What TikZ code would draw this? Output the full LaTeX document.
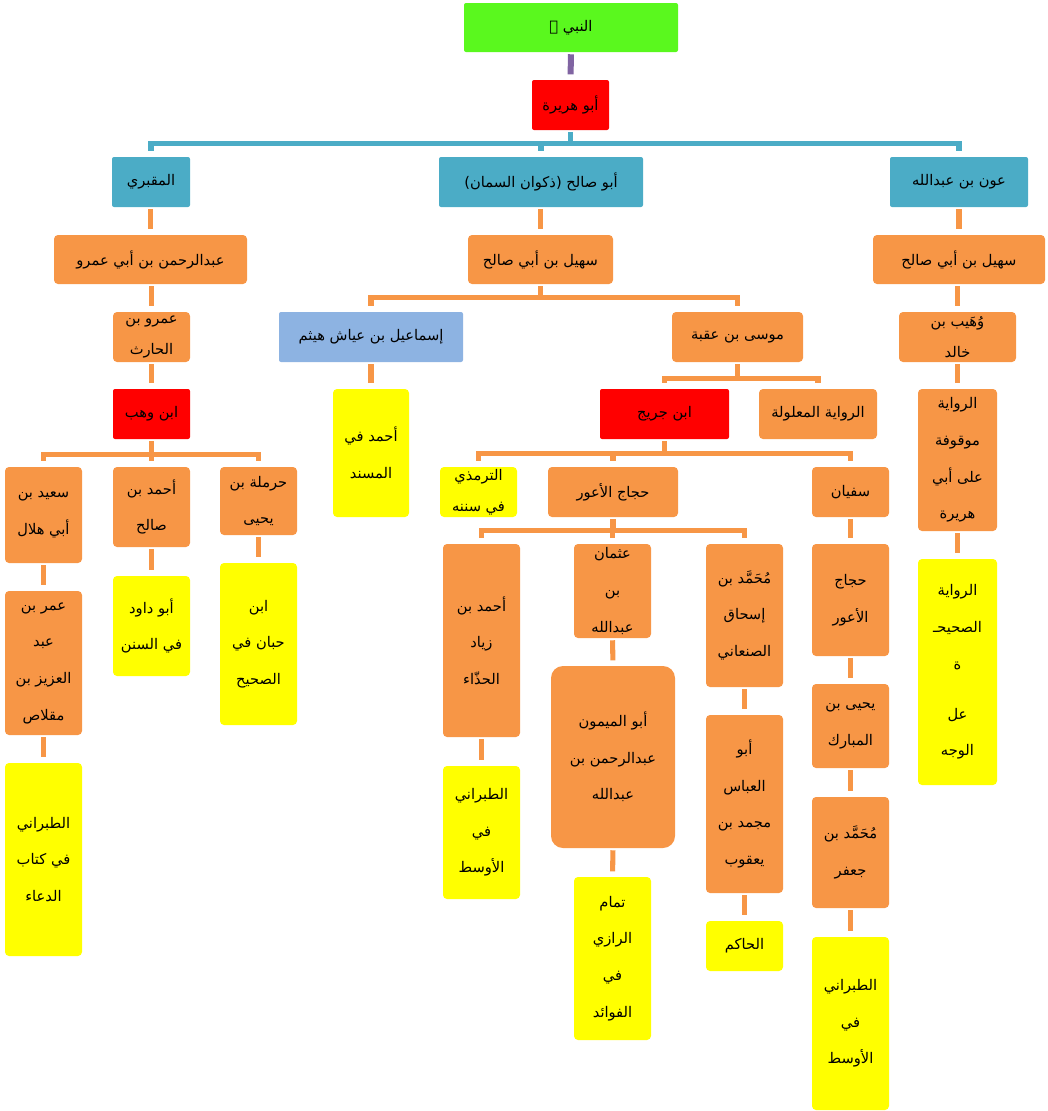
\documentclass[tikz,border=0pt]{standalone}
\usepackage{fontspec}
\usepackage{tikz}
\usetikzlibrary{calc}
\TeXXeTstate=1
\newfontfamily\arabicfont[Script=Arabic]{DejaVu Sans}
\definecolor{isnadgreen}{HTML}{5AF81E}
\definecolor{isnadred}{HTML}{FF0000}
\definecolor{isnadblue}{HTML}{4BACC6}
\definecolor{isnadsky}{HTML}{8DB3E2}
\definecolor{isnadorange}{HTML}{F79646}
\definecolor{isnadyellow}{HTML}{FFFF00}
\definecolor{isnadpurple}{HTML}{8064A2}
\newcommand\ar[1]{\beginR#1\endR}
\tikzset{
  % every box of the chain, sized in screen pixels
  isnad box/.style={
    rectangle, rounded corners=3pt, draw=none, inner sep=0pt,
    align=center, text=black,
    font=\arabicfont\fontsize{11}{27.5}\selectfont,
  },
  isnad size/.style 2 args={minimum width=#1*0.75pt, minimum height=#2*0.75pt},
  % the kinds of box
  prophet/.style={isnad box, fill=isnadgreen, rounded corners=1.5pt},
  pivot/.style={isnad box, fill=isnadred, rounded corners=1.5pt},
  tabii/.style={isnad box, fill=isnadblue, rounded corners=1.5pt},
  narrator/.style={isnad box, fill=isnadorange},
  ismailbox/.style={isnad box, fill=isnadsky, rounded corners=1.5pt},
  source/.style={isnad box, fill=isnadyellow},
}
\tikzset{
  isnad link/.style={line width=3.8pt, shorten <=1.5pt, shorten >=4pt},
  purple link/.style={isnad link, draw=isnadpurple, line width=4.5pt},
  blue link/.style={isnad link, draw=isnadblue},
  orange link/.style={isnad link, draw=isnadorange},
}
\begin{document}
\begin{tikzpicture}[x=0.75pt,y=-0.75pt]
  \useasboundingbox (0,0) rectangle (1047,1111);

  % ---- top of the chain ----------------------------------------------------
  \node[prophet, isnad size={214}{49}] (nabi) at (571,27.5) {\ar{النبي ﷺ}};
  \node[pivot, isnad size={77}{50}] (abuhurayra) at (570.5,105) {\ar{أبو هريرة}};

  \node[tabii, isnad size={78}{50}] (maqburi) at (151,182) {\ar{المقبري}};
  \node[tabii, isnad size={204}{50}] (abusalih) at (541,182) {\ar{أبو صالح (ذكوان السمان)}};
  \node[tabii, isnad size={138}{50}] (awn) at (959,182) {\ar{عون بن عبدالله}};

  \draw[purple link] (nabi.south) -- (abuhurayra.north);
  \draw[blue link] (abuhurayra.south) -- ++(0,13) -| (maqburi.north);
  \draw[blue link] (abuhurayra.south) -- ++(0,13) -| (abusalih.north);
  \draw[blue link] (abuhurayra.south) -- ++(0,13) -| (awn.north);

  % ---- second layer ---------------------------------------------------------
  \node[narrator, isnad size={193}{49}] (abdurrahman) at (150.5,259.5) {\ar{عبدالرحمن بن أبي عمرو}};
  \node[narrator, isnad size={145}{49}] (suhail) at (540.5,259.5) {\ar{سهيل بن أبي صالح}};
  \node[narrator, isnad size={172}{49}] (suhailb) at (959,259.5) {\ar{سهيل بن أبي صالح}};

  \draw[orange link] (abdurrahman.north |- maqburi.south) -- (abdurrahman.north);
  \draw[orange link] (suhail.north |- abusalih.south) -- (suhail.north);
  \draw[orange link] (suhailb.north |- awn.south) -- (suhailb.north);

  \node[narrator, isnad size={77}{50}, font=\arabicfont\fontsize{11}{23}\selectfont]
    (amr) at (151.5,337) {\ar{عمرو بن}\\\ar{الحارث}};
  \node[ismailbox, isnad size={184}{50}] (ismail) at (371,337) {\ar{إسماعيل بن عياش هيثم}};
  \node[narrator, isnad size={131}{50}] (musa) at (737.5,337) {\ar{موسى بن عقبة}};
  \node[narrator, isnad size={117}{50}, font=\arabicfont\fontsize{11}{23}\selectfont]
    (wuhaib) at (957.5,337) {\ar{وُهَيب بن}\\\ar{خالد}};

  \draw[orange link] (amr.north |- abdurrahman.south) -- (amr.north);
  \draw[orange link] (suhail.south) -- ++(0,13) -| (ismail.north);
  \draw[orange link] (suhail.south) -- ++(0,13) -| (musa.north);
  \draw[orange link] (wuhaib.north |- suhailb.south) -- (wuhaib.north);

  % ---- the left branch: ibn wahb --------------------------------------------
  \node[pivot, isnad size={77}{50}] (ibnwahb) at (151.5,414) {\ar{ابن وهب}};
  \draw[orange link] (ibnwahb.north |- amr.south) -- (ibnwahb.north);

  \node[narrator, isnad size={77}{96}] (saeed) at (43.5,515) {\ar{سعيد بن}\\\ar{أبي هلال}};
  \node[narrator, isnad size={77}{80}] (ahmadsalih) at (151.5,507) {\ar{أحمد بن}\\\ar{صالح}};
  \node[narrator, isnad size={77}{68}] (harmala) at (258.5,501) {\ar{حرملة بن}\\\ar{يحيى}};

  \draw[orange link] (ibnwahb.south) -- ++(0,15) -| (saeed.north);
  \draw[orange link] (ibnwahb.south) -- ++(0,15) -| (ahmadsalih.north);
  \draw[orange link] (ibnwahb.south) -- ++(0,15) -| (harmala.north);

  \node[narrator, isnad size={77}{144}] (umar) at (43.5,663)
    {\ar{عمر بن}\\\ar{عبد}\\\ar{العزيز بن}\\\ar{مقلاص}};
  \node[source, isnad size={77}{193}] (tabaranidua) at (43.5,859.5)
    {\ar{الطبراني}\\\ar{في كتاب}\\\ar{الدعاء}};
  \node[source, isnad size={77}{100}] (abudawud) at (151.5,626) {\ar{أبو داود}\\\ar{في السنن}};
  \node[source, isnad size={77}{162}] (ibnhibban) at (258.5,644)
    {\ar{ابن}\\\ar{حبان في}\\\ar{الصحيح}};

  \draw[orange link] (saeed.south) -- (umar.north);
  \draw[orange link] (umar.south) -- (tabaranidua.north);
  \draw[orange link] (ahmadsalih.south) -- (abudawud.north);
  \draw[orange link] (harmala.south) -- (ibnhibban.north);

  % ---- ismail ---------------------------------------------------------------
  \node[source, isnad size={76}{128}] (ahmadmusnad) at (371,453) {\ar{أحمد في}\\\ar{المسند}};
  \draw[orange link] (ahmadmusnad.north |- ismail.south) -- (ahmadmusnad.north);

  % ---- musa ibn uqba and ibn juraij -----------------------------------------
  \node[pivot, isnad size={129}{50}] (ibnjuraij) at (664.5,414) {\ar{ابن جريج}};
  \node[narrator, isnad size={118}{50}] (maalula) at (818,414) {\ar{الرواية المعلولة}};
  \draw[orange link] (musa.south) -- ++(0,16) -| (ibnjuraij.north);
  \draw[orange link] (musa.south) -- ++(0,16) -| (maalula.north);

  \node[source, isnad size={77}{50}, font=\arabicfont\fontsize{11}{23}\selectfont]
    (tirmidhi) at (478.5,492) {\ar{الترمذي}\\\ar{في سننه}};
  \node[narrator, isnad size={130}{50}] (hajjaj) at (613,492) {\ar{حجاج الأعور}};
  \node[narrator, isnad size={77}{50}] (sufyan) at (850.5,492) {\ar{سفيان}};
  \draw[orange link] (ibnjuraij.south) -- ++(0,14) -| (tirmidhi.north);
  \draw[orange link] (ibnjuraij.south) -- ++(0,14) -| (hajjaj.north);
  \draw[orange link] (ibnjuraij.south) -- ++(0,14) -| (sufyan.north);

  \node[narrator, isnad size={77}{193}] (ahmadziyad) at (481.5,640.5)
    {\ar{أحمد بن}\\\ar{زياد}\\\ar{الحذّاء}};
  \node[narrator, isnad size={77}{94}] (uthman) at (612.5,591)
    {\ar{عثمان}\\\ar{بن}\\\ar{عبدالله}};
  \node[narrator, isnad size={77}{143}] (ishaq) at (744.5,615.5)
    {\ar{مُحَمَّد بن}\\\ar{إسحاق}\\\ar{الصنعاني}};
  \draw[orange link] (hajjaj.south) -- ++(0,13) -| (ahmadziyad.north);
  \draw[orange link] (hajjaj.south) -- ++(0,13) -| (uthman.north);
  \draw[orange link] (hajjaj.south) -- ++(0,13) -| (ishaq.north);

  \node[source, isnad size={77}{133}] (tabaraniziyad) at (481.5,832.5)
    {\ar{الطبراني}\\\ar{في}\\\ar{الأوسط}};
  \node[narrator, isnad size={124}{182}, rounded corners=9pt] (abulmaymun) at (613,757)
    {\ar{أبو الميمون}\\\ar{عبدالرحمن بن}\\\ar{عبدالله}};
  \node[source, isnad size={77}{163}] (tammam) at (612.5,958.5)
    {\ar{تمام}\\\ar{الرازي}\\\ar{في}\\\ar{الفوائد}};
  \node[narrator, isnad size={77}{178}] (abulabbas) at (744.5,804)
    {\ar{أبو}\\\ar{العباس}\\\ar{مجمد بن}\\\ar{يعقوب}};
  \node[source, isnad size={77}{50}] (hakim) at (744.5,946) {\ar{الحاكم}};

  \draw[orange link] (ahmadziyad.south) -- (tabaraniziyad.north);
  \draw[orange link] (uthman.south) -- (abulmaymun.north);
  \draw[orange link] (abulmaymun.south) -- (tammam.north);
  \draw[orange link] (ishaq.south) -- (abulabbas.north);
  \draw[orange link] (abulabbas.south) -- (hakim.north);

  % ---- sufyan's line --------------------------------------------------------
  \node[narrator, isnad size={77}{112}] (hajjajb) at (850.5,600) {\ar{حجاج}\\\ar{الأعور}};
  \node[narrator, isnad size={77}{84}] (yahya) at (850.5,726) {\ar{يحيى بن}\\\ar{المبارك}};
  \node[narrator, isnad size={77}{111}] (muhjafar) at (850.5,852.5) {\ar{مُحَمَّد بن}\\\ar{جعفر}};
  \node[source, isnad size={77}{173}] (tabaranijafar) at (850.5,1023.5)
    {\ar{الطبراني}\\\ar{في}\\\ar{الأوسط}};
  \draw[orange link] (sufyan.south) -- (hajjajb.north);
  \draw[orange link] (hajjajb.south) -- (yahya.north);
  \draw[orange link] (yahya.south) -- (muhjafar.north);
  \draw[orange link] (muhjafar.south) -- (tabaranijafar.north);

  % ---- wuhaib: the stopped and the sound version ----------------------------
  \node[narrator, isnad size={79}{142}] (mawqufa) at (957.5,460)
    {\ar{الرواية}\\\ar{موقوفة}\\\ar{على أبي}\\\ar{هريرة}};
  \node[source, isnad size={79}{226}] (sahiha) at (957.5,672)
    {\ar{الرواية}\\\ar{الصحيحـ}\\\ar{ة}\\[10pt]\ar{عل}\\\ar{الوجه}};
  \draw[orange link] (wuhaib.south) -- (mawqufa.north);
  \draw[orange link] (mawqufa.south) -- (sahiha.north);

\end{tikzpicture}
\end{document}
